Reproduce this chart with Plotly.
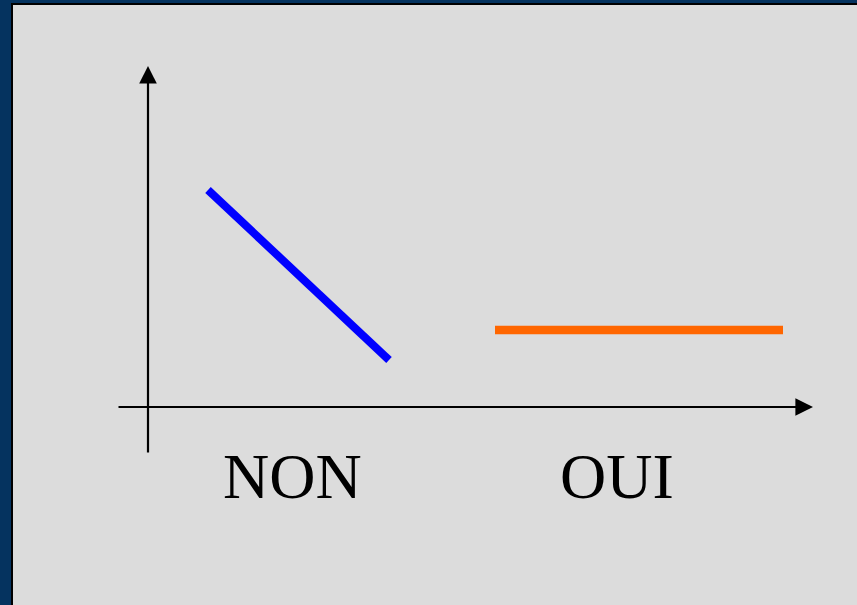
import plotly.graph_objects as go

# Data (chart units: origin at the axes crossing)
categories = ["NON", "OUI"]
category_x = [1.44, 4.69]
label_y = -0.69

non_x = [0.60, 2.41]
non_y = [2.17, 0.47]

oui_x = [3.47, 6.35]
oui_y = [0.77, 0.77]

x_axis_span = [-0.31, 6.65]
y_axis_span = [-0.47, 3.41]

W, H = 857, 605
x_range = [-1.48, 7.09]
y_range = [-1.98, 4.07]

NAVY = "#05335F"
GRAY = "#DCDCDC"

fig = go.Figure()

fig.add_trace(go.Scatter(x=non_x, y=non_y, mode="lines",
                         line=dict(color="#0000FF", width=8), hoverinfo="skip"))
fig.add_trace(go.Scatter(x=oui_x, y=oui_y, mode="lines",
                         line=dict(color="#FF6600", width=8.5), hoverinfo="skip"))

annotations = []
# x axis arrow
annotations.append(dict(x=x_axis_span[1], y=0, ax=x_axis_span[0], ay=0,
                        xref="x", yref="y", axref="x", ayref="y", text="",
                        showarrow=True, arrowhead=2, arrowsize=1.6, arrowwidth=2.2,
                        arrowcolor="black"))
# y axis arrow
annotations.append(dict(x=0, y=y_axis_span[1], ax=0, ay=y_axis_span[0],
                        xref="x", yref="y", axref="x", ayref="y", text="",
                        showarrow=True, arrowhead=2, arrowsize=1.6, arrowwidth=2.2,
                        arrowcolor="black"))
for cx, lab in zip(category_x, categories):
    annotations.append(dict(x=cx, y=label_y, xref="x", yref="y", text=lab,
                            showarrow=False,
                            font=dict(family="Liberation Serif, Times New Roman, serif",
                                      size=64, color="black"),
                            xanchor="center", yanchor="middle"))

shapes = [
    dict(type="rect", xref="paper", yref="paper", x0=0, x1=11 / W, y0=0, y1=1,
         fillcolor=NAVY, line=dict(width=0), layer="above"),
    dict(type="rect", xref="paper", yref="paper", x0=0, x1=1, y0=1 - 3 / H, y1=1,
         fillcolor=NAVY, line=dict(width=0), layer="above"),
    dict(type="rect", xref="paper", yref="paper", x0=11 / W, x1=13 / W, y0=0, y1=1 - 3 / H,
         fillcolor="black", line=dict(width=0), layer="above"),
    dict(type="rect", xref="paper", yref="paper", x0=11 / W, x1=1, y0=1 - 5 / H, y1=1 - 3 / H,
         fillcolor="black", line=dict(width=0), layer="above"),
]

fig.update_layout(
    width=W, height=H,
    margin=dict(l=0, r=0, t=0, b=0),
    paper_bgcolor=GRAY, plot_bgcolor=GRAY,
    showlegend=False,
    xaxis=dict(range=x_range, visible=False, fixedrange=True),
    yaxis=dict(range=y_range, visible=False, fixedrange=True),
    annotations=annotations,
    shapes=shapes,
)

fig.write_html("out.html", config={"displayModeBar": False},
               post_script="document.body.style.margin='0';document.body.style.overflow='hidden';")
